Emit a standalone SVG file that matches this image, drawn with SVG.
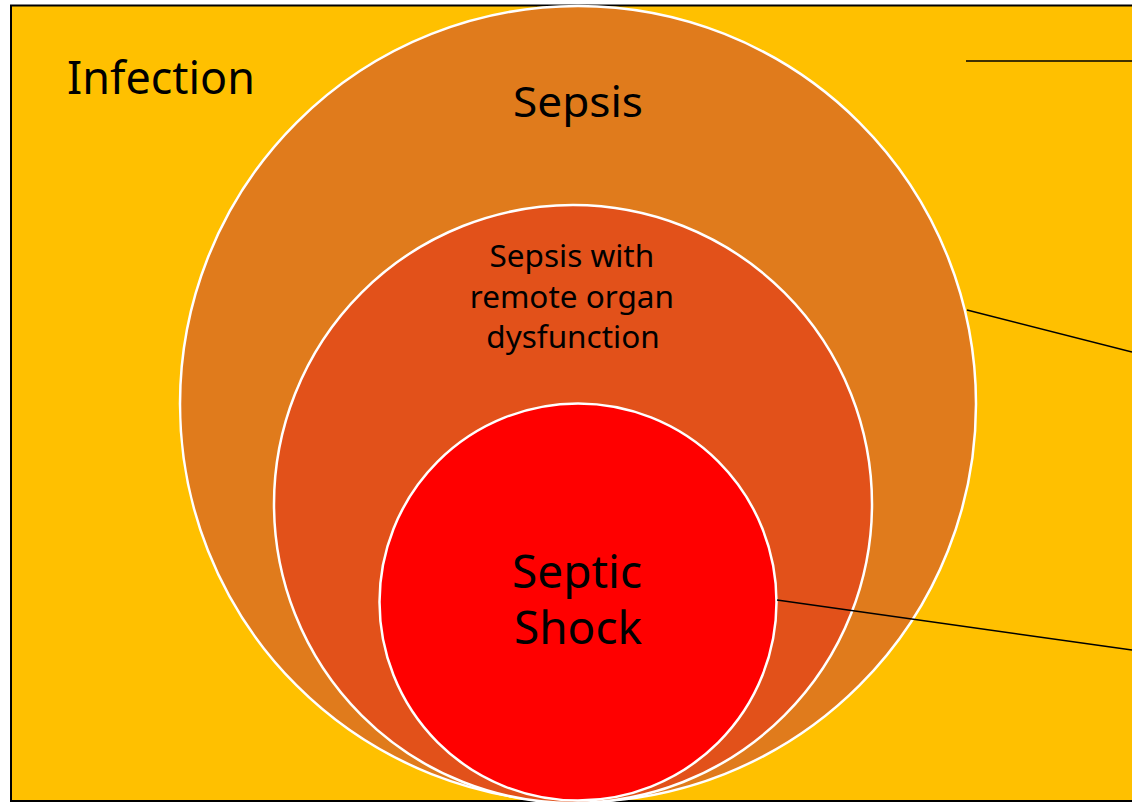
<svg xmlns="http://www.w3.org/2000/svg" width="1132" height="802" viewBox="0 0 1132 802">
<style>
.ring{stroke:#FFFFFF;stroke-width:2.5}
.lbl{font-family:"Noto Sans","Open Sans","DejaVu Sans",sans-serif;fill:#000000;text-anchor:middle}
.conn{stroke:#000000;stroke-width:1.5;fill:none}
</style>
<rect x="0" y="0" width="1132" height="802" fill="#FFFFFF"/>
<g id="infection">
<rect x="11" y="5.5" width="1135" height="795.5" fill="#FFC000" stroke="#000000" stroke-width="2"/>
<text class="lbl" x="161" y="94" font-size="46" textLength="188" lengthAdjust="spacingAndGlyphs">Infection</text>
</g>
<g id="sepsis">
<circle class="ring" cx="578" cy="404" r="398" fill="#E07B1C"/>
<text class="lbl" x="578" y="117" font-size="42" textLength="130" lengthAdjust="spacingAndGlyphs">Sepsis</text>
</g>
<g id="sepsis-organ">
<circle class="ring" cx="573" cy="504" r="299" fill="#E2511A"/>
<text class="lbl" x="573" font-size="31.5">
<tspan x="576" y="267">Sepsis with</tspan>
<tspan x="576" y="308">remote organ</tspan>
<tspan x="573" y="348">dysfunction</tspan>
</text>
</g>
<g id="septic-shock">
<circle class="ring" cx="578" cy="602" r="198.5" fill="#FF0000"/>
<text class="lbl" x="578" font-size="46">
<tspan x="583" y="588">Septic</tspan>
<tspan x="578" y="644">Shock</tspan>
</text>
</g>
<g id="connectors">
<line class="conn" x1="966" y1="61" x2="1132" y2="61"/>
<line class="conn" x1="967" y1="310" x2="1132" y2="352"/>
<line class="conn" x1="777" y1="600" x2="1132" y2="650"/>
</g>
</svg>
